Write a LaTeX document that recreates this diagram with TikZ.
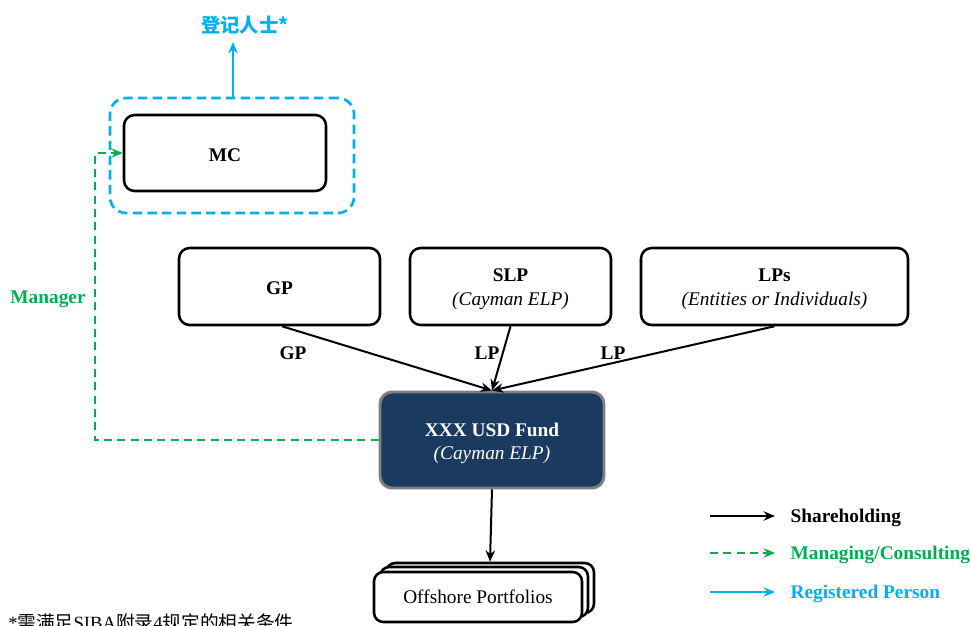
\documentclass[tikz,border=0pt]{standalone}
\usepackage{fontspec}
\setmainfont{Liberation Serif}
\newfontfamily\cjk{Noto Sans CJK SC}
\usetikzlibrary{arrows.meta}
\definecolor{regcyan}{HTML}{00B0F0}
\definecolor{mgrgreen}{HTML}{00B050}
\definecolor{fundnavy}{HTML}{1B3A60}
\definecolor{fundedge}{HTML}{7F7F7F}
\newcommand{\bodyfont}{\fontsize{14.5}{17.5}\selectfont}
\tikzset{
  entity/.style={draw=black, line width=1.9pt, rounded corners=8pt, fill=white,
    minimum height=57.75pt, inner sep=0pt},
  caption/.style={align=center, font=\bodyfont, inner sep=0pt},
  fundbox/.style={draw=fundedge, line width=2.2pt, rounded corners=9pt, fill=fundnavy,
    minimum width=168pt, minimum height=72pt, inner sep=0pt},
  portbox/.style={draw=black, line width=1.9pt, rounded corners=7pt, fill=white,
    minimum width=156pt, minimum height=37.5pt, inner sep=0pt, font=\bodyfont},
  regbox/.style={draw=regcyan, line width=2pt, dash pattern=on 7pt off 4pt,
    rounded corners=12pt, minimum width=183pt, minimum height=86.25pt, inner sep=0pt},
  tip/.style={-{Stealth[length=8.5pt,width=7pt]}},
  share/.style={draw=black, line width=1.5pt, tip},
  manage/.style={draw=mgrgreen, line width=1.5pt, dash pattern=on 6pt off 4pt, tip},
  register/.style={draw=regcyan, line width=1.5pt, tip},
  tag/.style={font=\bodyfont\bfseries, inner sep=1pt},
}
\begin{document}
\begin{tikzpicture}[x=0.75pt,y=-0.75pt]
\useasboundingbox (0,0) rectangle (971,625);

% management company inside its registered-person boundary
\node[regbox] (reg) at (232,155.5) {};
\node[entity, minimum width=151.5pt, minimum height=57pt] (mc) at (225,153) {};
\node[caption] (mct) at ([yshift=-1.5pt]mc.center) {\textbf{MC}};
\node[tag, text=regcyan, font=\bodyfont\cjk\bfseries] (regp) at (245,25) {登记人士*};
\draw[register] (reg.north -| 233,0) -- (233,42);

% partners
\node[entity, minimum width=150.75pt] (gp) at (279.5,286.5) {};
\node[caption] (gpt) at ([yshift=-1pt]gp.center) {\textbf{GP}};
\node[entity, minimum width=150.75pt] (slp) at (510.5,286.5) {};
\node[caption] (slpt) at ([yshift=-2pt]slp.center)
  {\textbf{SLP}\\[0pt]\textit{(Cayman ELP)}};
\node[entity, minimum width=200.25pt] (lps) at (774.5,286.5) {};
\node[caption] (lpst) at ([yshift=-2pt]lps.center)
  {\textbf{LPs}\\[0pt]\textit{(Entities or Individuals)}};

% the fund
\node[fundbox] (fund) at (492,440) {};
\node[caption, text=white] (fundt) at ([yshift=-2.5pt]fund.center)
  {\textbf{XXX USD Fund}\\[0pt]\textit{(Cayman ELP)}};

% stacked portfolio boxes
\node[portbox] (port3) at (490,588) {};
\node[portbox] (port2) at (484,592) {};
\node[portbox] (port1) at (478,597) {Offshore Portfolios};

% shareholding links
\draw[share] (gp.south -| 282,0) -- (fund.north);
\draw[share] (slp.south) -- (fund.north);
\draw[share] (lps.south) -- (fund.north);
\draw[share] (fund.south) -- (port3.north);
\node[tag] (lgp) at (293,353) {GP};
\node[tag] (llp1) at (487,353) {LP};
\node[tag] (llp2) at (613,353) {LP};

% manager link
\coordinate (bend) at (95,440);
\draw[manage] (fund.west) -- (bend) |- (mc.west);
\node[tag, text=mgrgreen] (mgr) at (48,299) {Manager};

% legend
\coordinate (k1a) at (710,516); \coordinate (k1b) at (775,516);
\coordinate (k2a) at (710,553); \coordinate (k2b) at (775,553);
\coordinate (k3a) at (710,592); \coordinate (k3b) at (775,592);
\draw[share] (k1a) -- (k1b);
\draw[manage] (k2a) -- (k2b);
\draw[register] (k3a) -- (k3b);
\node[tag, anchor=west] (t1) at (789,518) {Shareholding};
\node[tag, anchor=west, text=mgrgreen] (t2) at (789,555) {Managing/Consulting};
\node[tag, anchor=west, text=regcyan] (t3) at (789,594) {Registered Person};

% footnote
\node[anchor=west, inner sep=0pt, font=\fontsize{14}{17}\selectfont] (note) at (8,622)
  {*{\cjk 需满足}SIBA{\cjk 附录}4{\cjk 规定的相关条件}};
\end{tikzpicture}
\end{document}
